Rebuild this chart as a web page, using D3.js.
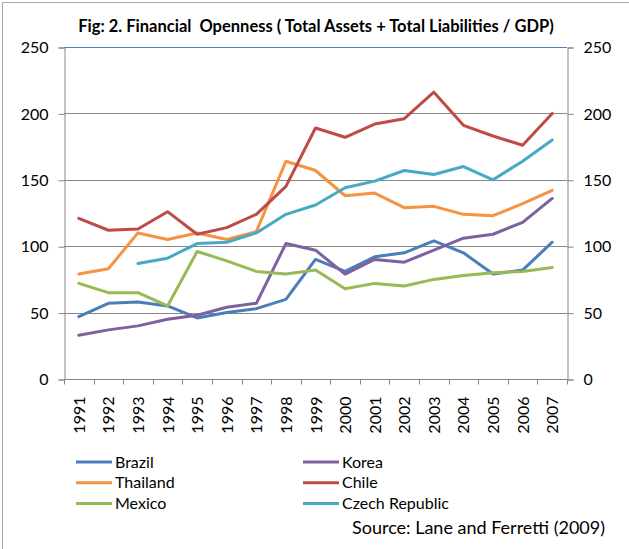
<!DOCTYPE html>
<html>
<head>
<meta charset="utf-8">
<script src="https://cdn.jsdelivr.net/npm/d3@7"></script>
<style>
  body { margin: 0; background: #fff; }
  svg { display: block; }
  text { font-family: Lato, "Liberation Sans", sans-serif; fill: #000; }
</style>
</head>
<body>
<svg width="629" height="549"></svg>
<script>
var years = ["1991","1992","1993","1994","1995","1996","1997","1998","1999",
             "2000","2001","2002","2003","2004","2005","2006","2007"];
var yTicks = [0, 50, 100, 150, 200, 250];

var brazil   = [47, 57, 58, 55, 46, 50, 53, 60, 90, 81, 92, 95, 104, 95, 79, 82, 103];
var korea    = [33, 37, 40, 45, 48, 54, 57, 102, 97, 79, 90, 88, 97, 106, 109, 118, 136];
var thailand = [79, 83, 110, 105, 110, 105, 111, 164, 157, 138, 140, 129, 130, 124, 123, 132, 142];
var chile    = [121, 112, 113, 126, 109, 114, 124, 145, 189, 182, 192, 196, 216, 191, 183, 176, 200];
var mexico   = [72, 65, 65, 55, 96, 89, 81, 79, 82, 68, 72, 70, 75, 78, 80, 81, 84];
var czech    = [null, null, 87, 91, 102, 103, 110, 124, 131, 144, 149, 157, 154, 160, 150, 164, 180];

var series = [
  {name: "Brazil", values: brazil, color: "#4A7EBB"},
  {name: "Korea", values: korea, color: "#7D60A0"},
  {name: "Thailand", values: thailand, color: "#F69240"},
  {name: "Chile", values: chile, color: "#BE4B48"},
  {name: "Mexico", values: mexico, color: "#98B954"},
  {name: "Czech Republic", values: czech, color: "#46AAC5"}
];

var svg = d3.select("svg"),
    plotL = 64, plotR = 567, plotT = 47, plotB = 379;

// outer frame (only top & left edge visible in the crop)
svg.append("path")
    .attr("d", "M2.5,549V2.5H629")
    .attr("fill", "none")
    .attr("stroke", "#a6a6a6")
    .attr("stroke-width", 1);

var x = d3.scaleBand().domain(years).range([plotL, plotR]).padding(0);
var y = d3.scaleLinear().domain([0, 250]).range([plotB, plotT]);

// gridlines
svg.append("g").selectAll("line")
    .data(yTicks.filter(function(d) { return d > 0 && d < 250; }))
    .enter().append("line")
    .attr("x1", plotL).attr("x2", plotR)
    .attr("y1", function(d) { return Math.round(y(d)) + 0.5; })
    .attr("y2", function(d) { return Math.round(y(d)) + 0.5; })
    .attr("stroke", "#868686").attr("stroke-width", 1);

// top edge (blue)
svg.append("line")
    .attr("x1", plotL).attr("x2", plotR)
    .attr("y1", plotT + 0.5).attr("y2", plotT + 0.5)
    .attr("stroke", "#4F81BD").attr("stroke-width", 1);

// left axis
var yLeft = svg.append("g")
    .attr("transform", "translate(" + (plotL + 0.5) + ",0.5)")
    .call(d3.axisLeft(y).tickValues(yTicks).tickSize(6).tickPadding(10));
// right axis
var yRight = svg.append("g")
    .attr("transform", "translate(" + (plotR + 0.5) + ",0.5)")
    .call(d3.axisRight(y).tickValues(yTicks).tickSize(6).tickPadding(10));

[yLeft, yRight].forEach(function(g) {
  g.select(".domain").attr("stroke", "#868686");
  g.selectAll(".tick line").attr("stroke", "#868686");
  g.selectAll(".tick text").style("font-size", "16px").attr("fill", "#000");
});

// bottom axis: ticks on category boundaries, labels on centres
var xAxis = svg.append("g")
    .attr("transform", "translate(0," + (plotB + 0.5) + ")");
xAxis.append("line")
    .attr("x1", plotL).attr("x2", plotR)
    .attr("stroke", "#868686");
xAxis.selectAll(".bt")
    .data(d3.range(years.length + 1))
    .enter().append("line")
    .attr("class", "bt")
    .attr("x1", function(i) { return Math.round(plotL + i * x.step()) + 0.5; })
    .attr("x2", function(i) { return Math.round(plotL + i * x.step()) + 0.5; })
    .attr("y1", 0).attr("y2", 5)
    .attr("stroke", "#868686");
xAxis.selectAll(".yl")
    .data(years)
    .enter().append("text")
    .attr("class", "yl")
    .attr("transform", function(d) {
      return "translate(" + (x(d) + x.bandwidth() / 2 + 6) + ",17) rotate(-90)";
    })
    .attr("text-anchor", "end")
    .style("font-size", "16px")
    .text(function(d) { return d; });

// lines
var line = d3.line()
    .defined(function(d) { return d != null; })
    .x(function(d, i) { return x(years[i]) + x.bandwidth() / 2; })
    .y(function(d) { return y(d); });

svg.append("g").selectAll("path")
    .data(series)
    .enter().append("path")
    .attr("d", function(d) { return line(d.values); })
    .attr("fill", "none")
    .attr("stroke", function(d) { return d.color; })
    .attr("stroke-width", 3)
    .attr("stroke-linejoin", "round")
    .attr("stroke-linecap", "round");

// title (keeps the double space of the original)
svg.append("text")
    .attr("x", 316).attr("y", 32)
    .attr("text-anchor", "middle")
    .style("font-size", "16.5px")
    .style("font-weight", "bold")
    .style("white-space", "pre")
    .text("Fig: 2. Financial  Openness ( Total Assets + Total Liabilities / GDP)");

// legend, filled row by row in two columns
var legend = svg.append("g").selectAll("g")
    .data(series)
    .enter().append("g")
    .attr("transform", function(d, i) {
      return "translate(" + (i % 2 === 0 ? 76 : 303) + "," + (462 + Math.floor(i / 2) * 20.8) + ")";
    });
legend.append("line")
    .attr("x1", 0).attr("x2", 36)
    .attr("stroke", function(d) { return d.color; })
    .attr("stroke-width", 3);
legend.append("text")
    .attr("x", 39).attr("dy", "0.35em")
    .style("font-size", "16px")
    .text(function(d) { return d.name; });

svg.append("text")
    .attr("x", 352).attr("y", 534)
    .style("font-size", "18px")
    .text("Source: Lane and Ferretti (2009)");
</script>
</body>
</html>
